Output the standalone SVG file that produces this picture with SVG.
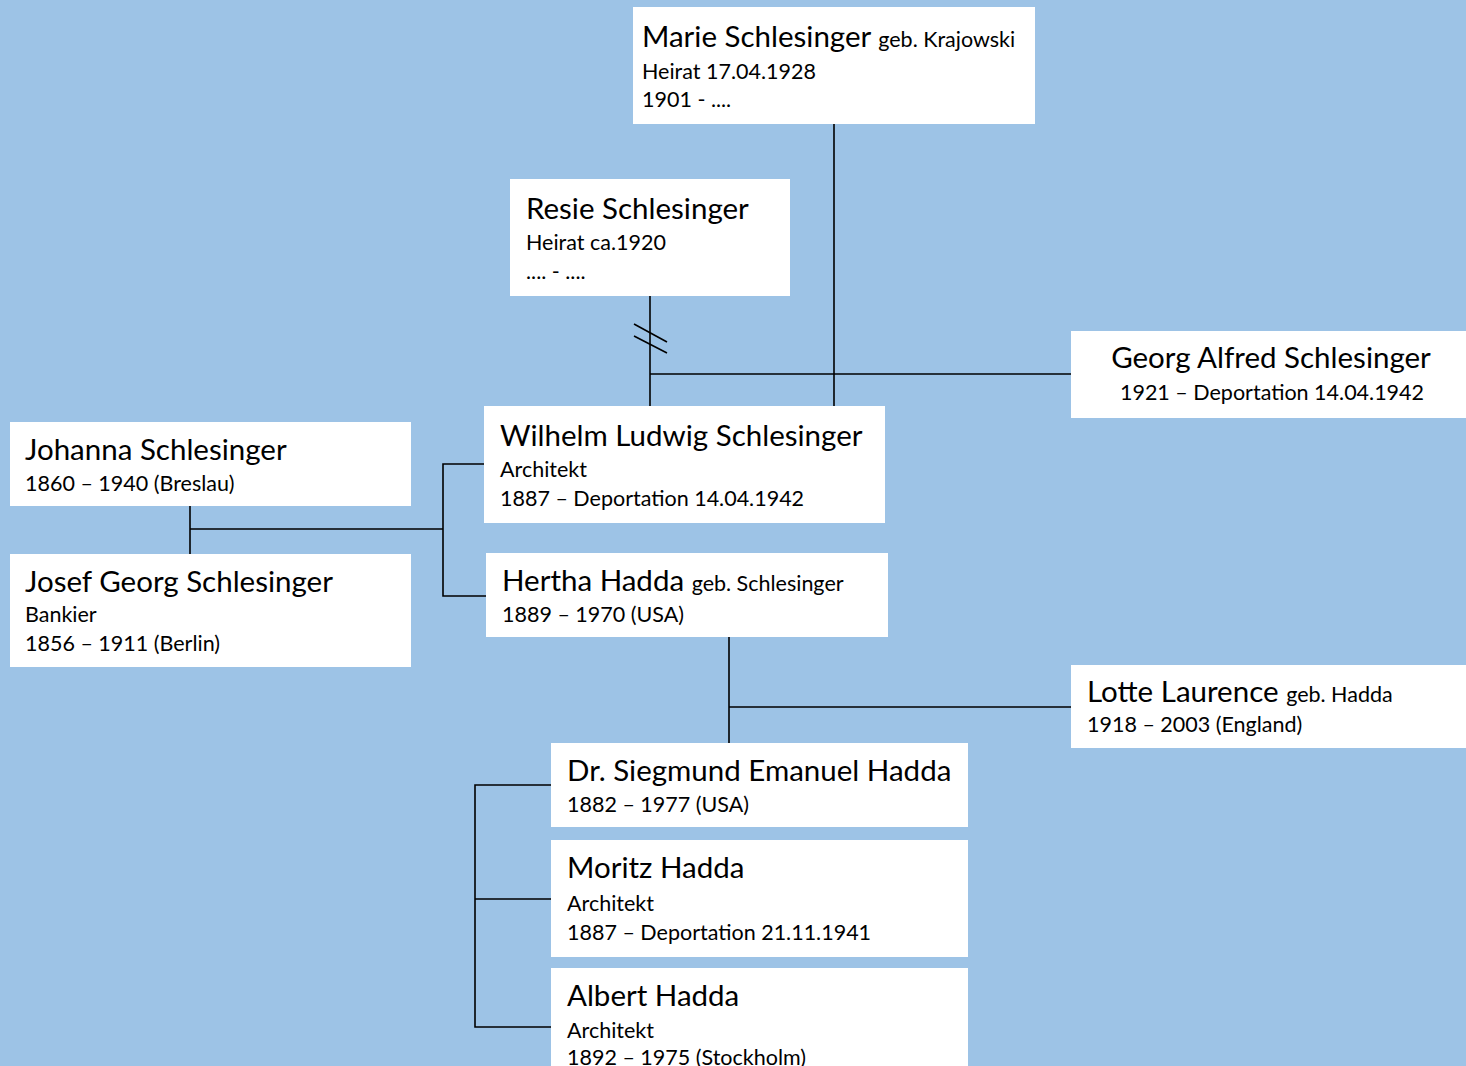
<svg xmlns="http://www.w3.org/2000/svg" width="1466" height="1066" viewBox="0 0 1466 1066">
<style>
.box{fill:#fff}
.n{font-family:Lato,"Open Sans","Liberation Sans",sans-serif;font-size:29.5px;fill:#000}
.s{font-family:Lato,"Open Sans","Liberation Sans",sans-serif;font-size:21.5px;fill:#000}
.c{stroke:#000;stroke-width:1.6;fill:none}
</style>
<rect width="1466" height="1066" fill="#9dc3e6"/>
<g id="connectors">
<path class="c" d="M834 124V406"/>
<path class="c" d="M650 296V406"/>
<path class="c" d="M634 324L667 342M634 336L667 353"/>
<path class="c" d="M650 374H1071"/>
<path class="c" d="M190 506V554M190 529H443"/>
<path class="c" d="M484 464H443V596H486"/>
<path class="c" d="M729 637V747M729 707H1071"/>
<path class="c" d="M551 785H475V1027H551M475 899H551"/>
</g>
<g id="marie">
<rect class="box" x="633" y="7" width="402" height="117"/>
<text class="n" x="642" y="47">Marie Schlesinger <tspan class="s">geb. Krajowski</tspan></text>
<text class="s" x="642" y="79">Heirat 17.04.1928</text>
<text class="s" x="642" y="107">1901 - ....</text>
</g>
<g id="resie">
<rect class="box" x="510" y="179" width="280" height="117"/>
<text class="n" x="526" y="219">Resie Schlesinger</text>
<text class="s" x="526" y="250">Heirat ca.1920</text>
<text class="s" x="526" y="279">.... - ....</text>
</g>
<g id="georg">
<rect class="box" x="1071" y="331" width="395" height="87"/>
<text class="n" x="1271" y="368" text-anchor="middle">Georg Alfred Schlesinger</text>
<text class="s" x="1272" y="400" text-anchor="middle">1921 – Deportation 14.04.1942</text>
</g>
<g id="wilhelm">
<rect class="box" x="484" y="406" width="401" height="117"/>
<text class="n" x="500" y="446">Wilhelm Ludwig Schlesinger</text>
<text class="s" x="500" y="477">Architekt</text>
<text class="s" x="500" y="506">1887 – Deportation 14.04.1942</text>
</g>
<g id="johanna">
<rect class="box" x="10" y="422" width="401" height="84"/>
<text class="n" x="25" y="460">Johanna Schlesinger</text>
<text class="s" x="25" y="491">1860 – 1940 (Breslau)</text>
</g>
<g id="josef">
<rect class="box" x="10" y="554" width="401" height="113"/>
<text class="n" x="25" y="592">Josef Georg Schlesinger</text>
<text class="s" x="25" y="622">Bankier</text>
<text class="s" x="25" y="651">1856 – 1911 (Berlin)</text>
</g>
<g id="hertha">
<rect class="box" x="486" y="553" width="402" height="84"/>
<text class="n" x="502" y="591">Hertha Hadda <tspan class="s">geb. Schlesinger</tspan></text>
<text class="s" x="502" y="622">1889 – 1970 (USA)</text>
</g>
<g id="lotte">
<rect class="box" x="1071" y="665" width="395" height="83"/>
<text class="n" x="1087" y="702">Lotte Laurence <tspan class="s">geb. Hadda</tspan></text>
<text class="s" x="1087" y="732">1918 – 2003 (England)</text>
</g>
<g id="siegmund">
<rect class="box" x="551" y="743" width="417" height="84"/>
<text class="n" x="567" y="781">Dr. Siegmund Emanuel Hadda</text>
<text class="s" x="567" y="812">1882 – 1977 (USA)</text>
</g>
<g id="moritz">
<rect class="box" x="551" y="840" width="417" height="117"/>
<text class="n" x="567" y="878">Moritz Hadda</text>
<text class="s" x="567" y="911">Architekt</text>
<text class="s" x="567" y="940">1887 – Deportation 21.11.1941</text>
</g>
<g id="albert">
<rect class="box" x="551" y="968" width="417" height="110"/>
<text class="n" x="567" y="1006">Albert Hadda</text>
<text class="s" x="567" y="1038">Architekt</text>
<text class="s" x="567" y="1065">1892 – 1975 (Stockholm)</text>
</g>
</svg>
